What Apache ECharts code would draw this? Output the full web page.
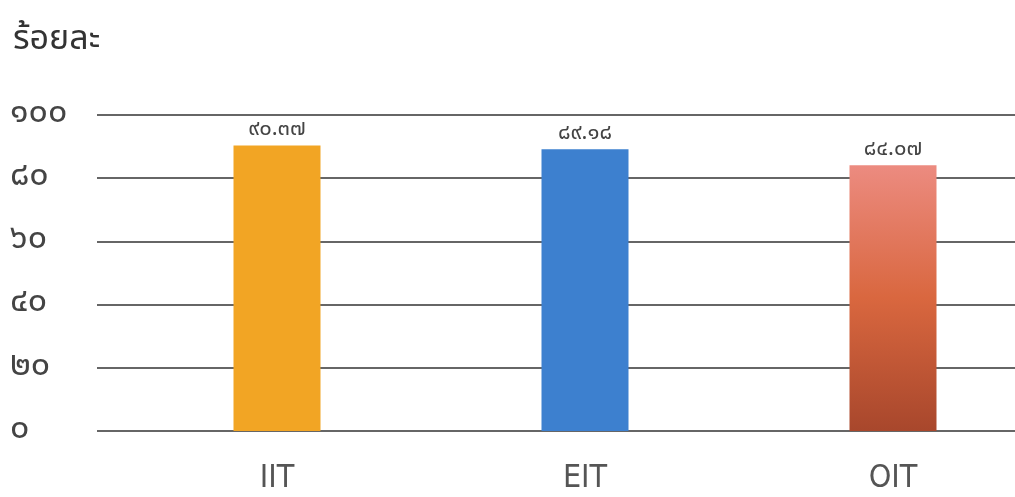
<!DOCTYPE html>
<html><head><meta charset="utf-8">
<script src="https://cdn.jsdelivr.net/npm/echarts@6/dist/echarts.min.js"></script>
<style>html,body{margin:0;padding:0;background:#fff}#c{width:1015px;height:497px}</style>
</head><body><div id="c"></div>
<script>
const categories = ['IIT', 'EIT', 'OIT'];
const values = [90.37, 89.18, 84.07];
const yTickLabels = ['๐', '๒๐', '๔๐', '๖๐', '๘๐', '๑๐๐'];
const thaiDigits = '๐๑๒๓๔๕๖๗๘๙';
const toThai = s => String(s).replace(/[0-9]/g, d => thaiDigits[+d]);
const FONT = "'Noto Sans Thai','Noto Sans','DejaVu Sans',sans-serif";

const barColors = [
  '#f2a524',
  '#3d80cf',
  {type:'linear',x:0,y:0,x2:0,y2:1,colorStops:[{offset:0,color:'#ec8b80'},{offset:0.5,color:'#d9673f'},{offset:1,color:'#a8472c'}]}
];

const chart = echarts.init(document.getElementById('c'));
chart.setOption({
  animation:false,
  title:{text:'ร้อยละ',left:8,top:20,textStyle:{fontFamily:FONT,fontSize:34,fontWeight:'normal',color:'#333'}},
  grid:[
    {left:97,right:0,top:115,bottom:66,outerBoundsMode:'none'},
    {left:123,width:924,top:115,bottom:66,outerBoundsMode:'none'}
  ],
  xAxis:[
    {gridIndex:0,type:'category',data:categories,show:false},
    {gridIndex:1,type:'category',data:categories,
     axisLine:{show:false},axisTick:{show:false},
     axisLabel:{margin:32,fontFamily:"'DejaVu Sans Condensed','Liberation Sans Narrow',sans-serif",fontWeight:'lighter',fontSize:32,color:'#555'}}
  ],
  yAxis:[
    {gridIndex:0,type:'value',min:0,max:100,interval:20,
     axisLine:{show:false},axisTick:{show:false},
     splitLine:{lineStyle:{color:'#333',width:1.5}},
     axisLabel:{align:'left',margin:87,fontFamily:FONT,fontSize:34,color:'#444',
       formatter:v=>yTickLabels[Math.round(v/20)]}},
    {gridIndex:1,type:'value',min:0,max:100,interval:20,show:false,splitLine:{show:false}}
  ],
  series:[{
    type:'bar',xAxisIndex:1,yAxisIndex:1,barWidth:87,
    data:values.map((v,i)=>({value:v,itemStyle:{color:barColors[i]}})),
    label:{show:true,position:'top',distance:4,fontFamily:FONT,fontSize:22,color:'#444',
      formatter:p=>toThai(p.value.toFixed(2))}
  }]
});
</script></body></html>
